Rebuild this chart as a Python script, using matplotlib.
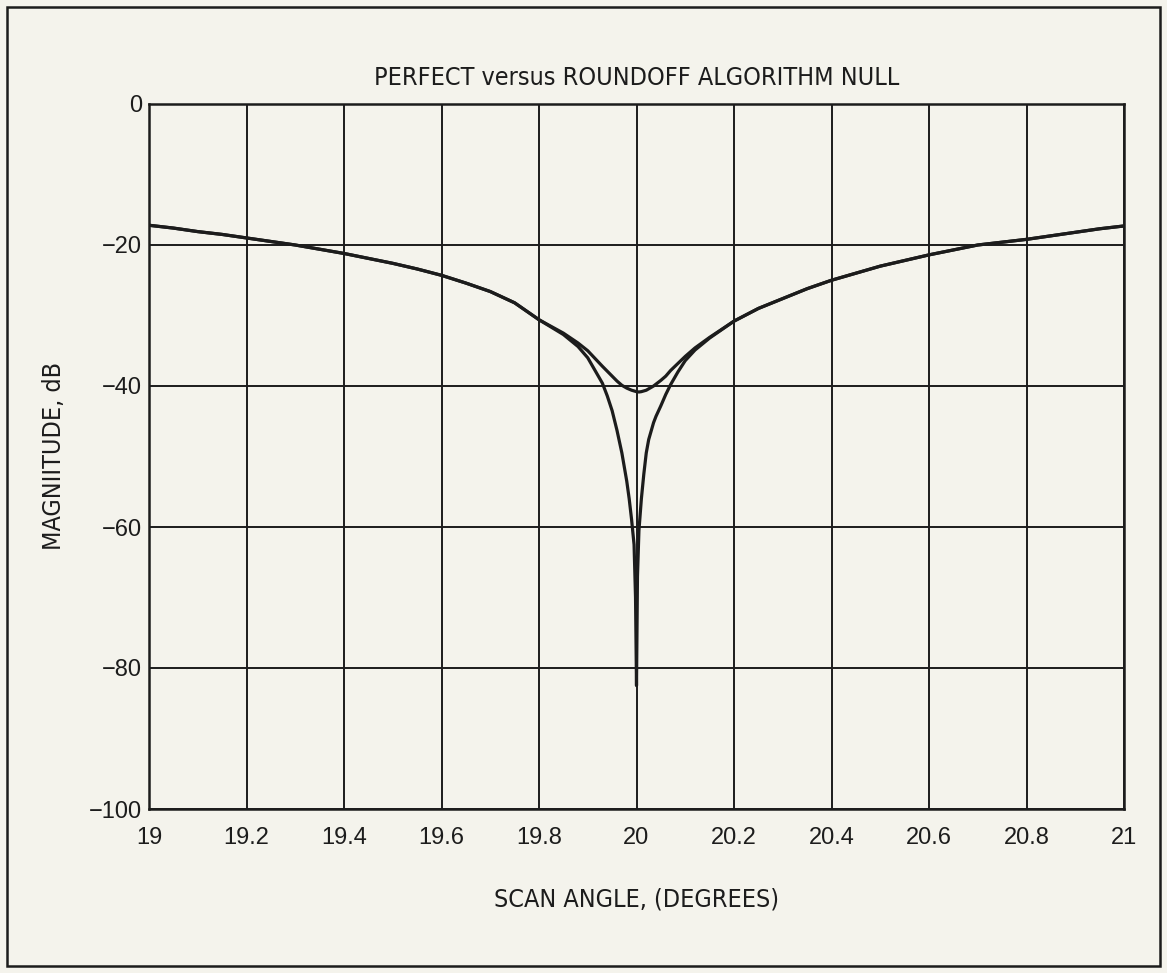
import matplotlib
matplotlib.use("Agg")
import matplotlib.pyplot as plt
from matplotlib.patches import Rectangle

# ---- data ----
x_perfect = [19.0, 19.05, 19.1, 19.15, 19.2, 19.25, 19.3, 19.35, 19.4, 19.45, 19.5,
             19.55, 19.6, 19.65, 19.7, 19.75, 19.8, 19.85, 19.88, 19.9, 19.93,
             19.94, 19.95, 19.96, 19.97, 19.98, 19.985, 19.99, 19.995, 19.998,
             20.0, 20.002, 20.005, 20.01, 20.015, 20.02, 20.025, 20.035, 20.04,
             20.05, 20.06, 20.07, 20.085, 20.1, 20.12, 20.15, 20.2, 20.25, 20.3,
             20.35, 20.4, 20.45, 20.5, 20.55, 20.6, 20.65, 20.7, 20.75, 20.8,
             20.85, 20.9, 20.95, 21.0]
y_perfect = [-17.2, -17.6, -18.1, -18.5, -19.0, -19.5, -20.0, -20.6, -21.2, -21.9, -22.6,
             -23.4, -24.3, -25.4, -26.6, -28.2, -30.6, -32.7, -34.4, -36.0, -39.6,
             -41.4, -43.5, -46.3, -49.5, -53.5, -56.0, -59.0, -62.5, -70.0,
             -82.5, -67.0, -60.5, -56.0, -52.5, -49.5, -47.6, -45.2, -44.3,
             -42.8, -41.2, -39.8, -38.0, -36.4, -34.9, -33.2, -30.8, -29.0, -27.6,
             -26.2, -25.0, -24.0, -23.0, -22.2, -21.4, -20.7, -20.0, -19.6, -19.2,
             -18.7, -18.2, -17.7, -17.3]

x_roundoff = [19.0, 19.05, 19.1, 19.15, 19.2, 19.25, 19.3, 19.35, 19.4, 19.45, 19.5,
              19.55, 19.6, 19.65, 19.7, 19.75, 19.8, 19.85, 19.88, 19.9, 19.93,
              19.95, 19.96, 19.97, 19.98, 19.99, 20.0, 20.005, 20.01, 20.02,
              20.035, 20.05, 20.06, 20.07, 20.085, 20.1, 20.12, 20.15, 20.2,
              20.25, 20.3, 20.35, 20.4, 20.45, 20.5, 20.55, 20.6, 20.65, 20.7,
              20.75, 20.8, 20.85, 20.9, 20.95, 21.0]
y_roundoff = [-17.2, -17.6, -18.1, -18.5, -19.0, -19.5, -20.0, -20.6, -21.2, -21.9, -22.6,
              -23.4, -24.3, -25.4, -26.6, -28.2, -30.6, -32.5, -33.9, -35.0, -37.2,
              -38.6, -39.3, -39.9, -40.3, -40.6, -40.8, -40.85, -40.8, -40.6,
              -40.0, -39.2, -38.6, -37.8, -36.8, -35.8, -34.6, -33.1, -30.8,
              -29.0, -27.6, -26.2, -25.0, -24.0, -23.0, -22.2, -21.4, -20.7, -20.0,
              -19.6, -19.2, -18.7, -18.2, -17.7, -17.3]

x_ticks = [19, 19.2, 19.4, 19.6, 19.8, 20, 20.2, 20.4, 20.6, 20.8, 21]
x_tick_labels = ["19", "19.2", "19.4", "19.6", "19.8", "20", "20.2", "20.4", "20.6", "20.8", "21"]
y_ticks = [0, -20, -40, -60, -80, -100]
y_tick_labels = ["0", "\u221220", "\u221240", "\u221260", "\u221280", "\u2212100"]

title = "PERFECT versus ROUNDOFF ALGORITHM NULL"
xlabel = "SCAN ANGLE, (DEGREES)"
ylabel = "MAGNIITUDE, dB"

# ---- figure ----
W, H = 1167, 973
bg = "#f4f3ec"
ink = "#1c1c1c"
fig = plt.figure(figsize=(W / 100, H / 100), dpi=100, facecolor=bg)

L, R, T, B = 149, 1124, 104, 809
ax = fig.add_axes([L / W, 1 - B / H, (R - L) / W, (B - T) / H], facecolor=bg)

ax.plot(x_perfect, y_perfect, color=ink, lw=2.3, solid_joinstyle="round")
ax.plot(x_roundoff, y_roundoff, color=ink, lw=2.3, solid_joinstyle="round")

ax.set_xlim(19, 21)
ax.set_ylim(-100, 0)
ax.set_xticks(x_ticks)
ax.set_xticklabels(x_tick_labels)
ax.set_yticks(y_ticks)
ax.set_yticklabels(y_tick_labels)
ax.grid(True, color=ink, lw=1.4)
ax.set_axisbelow(True)
for s in ax.spines.values():
    s.set_color(ink)
    s.set_linewidth(1.8)

ax.tick_params(axis="both", length=0, colors=ink)
ax.tick_params(axis="x", pad=13)
ax.tick_params(axis="y", pad=5)
for lab in ax.get_xticklabels() + ax.get_yticklabels():
    lab.set_fontfamily(["Liberation Sans", "DejaVu Sans"])
    lab.set_fontsize(17)

label_kw = dict(fontsize=18, family=["DejaVu Sans"], fontstretch="condensed", color=ink)
fig.text((L + R) / 2 / W, 1 - 78 / H, title, ha="center", va="center", **label_kw)
fig.text((L + R) / 2 / W, 1 - 900 / H, xlabel, ha="center", va="center", **label_kw)
fig.text(54 / W, 1 - 456 / H, ylabel, ha="center", va="center", rotation=90, **label_kw)

fig.patches.append(Rectangle((7 / W, 7 / H), (W - 14) / W, (H - 14) / H,
                             transform=fig.transFigure, fill=False,
                             edgecolor=ink, lw=1.8))

fig.savefig("out.png", dpi=100, facecolor=bg)
